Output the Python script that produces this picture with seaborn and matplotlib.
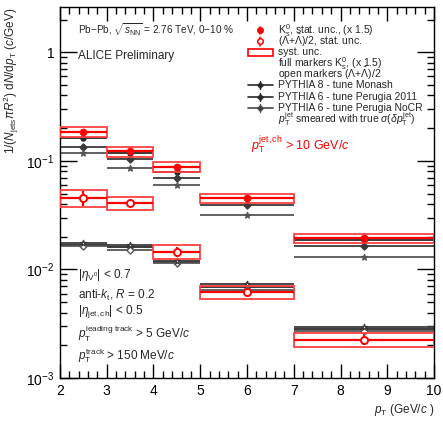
import numpy as np
import pandas as pd
import seaborn as sns
import matplotlib
matplotlib.use("Agg")
import matplotlib.pyplot as plt
from matplotlib.patches import Rectangle
from matplotlib.lines import Line2D
from matplotlib.ticker import FixedLocator, FixedFormatter, LogLocator, MultipleLocator, NullFormatter

# ---------------- data ----------------
bin_lo = [2, 3, 4, 5, 7]
bin_hi = [3, 4, 5, 7, 10]

k0s = [0.185, 0.122, 0.0887, 0.0451, 0.0194]
k0s_stat = [0.010, 0.006, 0.004, 0.002, 0.0010]
k0s_syst = [0.0185, 0.0125, 0.0096, 0.0045, 0.0019]

lam = [0.0458, 0.0409, 0.0146, 0.0062, 0.00226]
lam_stat = [0.0075, 0.0022, 0.0015, 0.0006, 0.00025]
lam_syst = [0.0080, 0.0058, 0.0021, 0.00085, 0.00033]

monash_k = [0.164, 0.119, 0.0787, 0.0455, 0.0185]
p2011_k = [0.135, 0.1036, 0.0694, 0.0392, 0.0163]
nocr_k = [0.118, 0.0857, 0.0598, 0.0318, 0.0130]

monash_l = [0.0168, 0.0160, 0.0117, 0.0069, 0.00285]
p2011_l = [0.0163, 0.0152, 0.0115, 0.0065, 0.0027]
nocr_l = [0.0174, 0.0168, 0.0119, 0.0074, 0.00296]

x_ticks = [2, 3, 4, 5, 6, 7, 8, 9, 10]
y_ticks = [1e-3, 1e-2, 1e-1, 1]
y_tick_labels = [r"$10^{-3}$", r"$10^{-2}$", r"$10^{-1}$", "1"]

legend_labels = [
    r"K$^{0}_{\mathrm{s}}$, stat. unc., (x 1.5)",
    r"($\Lambda$+$\bar{\Lambda}$)/2, stat. unc.",
    "syst. unc.",
    r"full markers K$^{0}_{\mathrm{s}}$, (x 1.5)",
    r"open markers ($\Lambda$+$\bar{\Lambda}$)/2",
    "PYTHIA 8 - tune Monash",
    "PYTHIA 6 - tune Perugia 2011",
    "PYTHIA 6 - tune Perugia NoCR",
    r"$p_{\mathrm{T}}^{\mathrm{jet}}$ smeared with true $\sigma(\delta p_{\mathrm{T}}^{\mathrm{jet}})$",
]

# ---------------- style ----------------
sns.set_theme(style="ticks")
plt.rcParams["font.family"] = ["Liberation Sans", "DejaVu Sans"]
plt.rcParams["mathtext.fontset"] = "custom"
plt.rcParams["mathtext.rm"] = "Liberation Sans"
plt.rcParams["mathtext.it"] = "Liberation Sans:italic"
plt.rcParams["mathtext.bf"] = "Liberation Sans:bold"

fig = plt.figure(figsize=(4.43, 4.22), dpi=100)
ax = fig.add_axes([0.1354, 0.104, 0.8443, 0.879])

lo = np.array(bin_lo, float)
hi = np.array(bin_hi, float)
cen = (lo + hi) / 2
halfw = (hi - lo) / 2

RED = "#ff0000"
BOX = "#ff4040"

# PYTHIA curves (horizontal bin lines + marker)
pythia = [
    (monash_k, "#2a2a2a", "o", True),
    (p2011_k, "#3a3a3a", "D", True),
    (nocr_k, "#555555", "*", True),
    (monash_l, "#2a2a2a", "o", False),
    (p2011_l, "#555555", "D", False),
    (nocr_l, "#3a3a3a", "*", False),
]
for vals, col, mk, filled in pythia:
    v = np.array(vals)
    ax.hlines(v, lo, hi, colors=col, lw=1.3, zorder=2)
    df = pd.DataFrame({"x": cen, "y": v})
    sns.scatterplot(data=df, x="x", y="y", ax=ax, marker=mk,
                    s=20 if mk == "*" else 13,
                    color=col if filled else "white",
                    edgecolor=col, linewidth=1.0, zorder=3, legend=False)
    ax.vlines(cen, v * 0.97, v * 1.03, colors=col, lw=1.2, zorder=2)

# syst boxes
for vals, syst in ((k0s, k0s_syst), (lam, lam_syst)):
    for l, h, v, s in zip(lo, hi, vals, syst):
        ax.add_patch(Rectangle((l, v - s), h - l, 2 * s, fill=False,
                               edgecolor=BOX, lw=1.3, zorder=4))

# data points
ax.errorbar(cen, k0s, yerr=k0s_stat, xerr=halfw, fmt="none", ecolor=RED,
            elinewidth=1.6, capsize=0, zorder=5)
sns.scatterplot(x=cen, y=k0s, ax=ax, color=RED, edgecolor=RED, s=26,
                marker="o", zorder=6, legend=False)
ax.errorbar(cen, lam, yerr=lam_stat, xerr=halfw, fmt="none", ecolor=RED,
            elinewidth=1.6, capsize=0, zorder=5)
sns.scatterplot(x=cen, y=lam, ax=ax, color="white", edgecolor=RED, s=26,
                linewidth=1.4, marker="o", zorder=6, legend=False)

# ---------------- axes ----------------
ax.set_yscale("log")
ax.set_xlim(2, 10)
ax.set_ylim(1e-3, 2.6)
ax.xaxis.set_major_locator(FixedLocator(x_ticks))
ax.xaxis.set_minor_locator(MultipleLocator(0.2))
ax.yaxis.set_major_locator(FixedLocator(y_ticks))
ax.yaxis.set_major_formatter(FixedFormatter(y_tick_labels))
ax.yaxis.set_minor_locator(LogLocator(base=10, subs=np.arange(2, 10)))
ax.yaxis.set_minor_formatter(NullFormatter())
ax.tick_params(which="both", direction="in", top=True, right=True,
               labelsize=10, colors="black", width=1.0)
ax.tick_params(which="major", length=10, pad=4)
ax.tick_params(which="minor", length=5)
ax.tick_params(axis="y", which="major", length=12)
for sp in ax.spines.values():
    sp.set_linewidth(1.0)
    sp.set_color("black")

ax.set_xlabel(r"$p_{\mathrm{T}}$ (GeV/$c$ )", loc="right", fontsize=8.5, labelpad=3)
ax.set_ylabel(r"$1/(N_{\mathrm{jets}}\pi R^{2})$ d$N$/d$p_{\mathrm{T}}$ ($c$/GeV)",
              loc="top", fontsize=8.5, labelpad=4)

# ---------------- texts ----------------
fs = 7.5
ax.text(0.048, 0.938, r"Pb$-$Pb, $\sqrt{s_{\mathrm{NN}}}$ = 2.76 TeV, 0$-$10 %",
        transform=ax.transAxes, fontsize=7.2, va="center")
ax.text(0.048, 0.868, "ALICE Preliminary", transform=ax.transAxes,
        fontsize=8.5, va="center")
ax.text(0.511, 0.627, r"$p_{\mathrm{T}}^{\mathrm{jet,ch}}$ > 10 GeV/$c$",
        transform=ax.transAxes, fontsize=9, color=RED, va="center")

left_txt = [
    (0.278, r"$|\eta_{\mathrm{V^{0}}}|$ < 0.7"),
    (0.224, r"anti-$k_{\mathrm{t}}$, $R$ = 0.2"),
    (0.180, r"$|\eta_{\mathrm{jet,ch}}|$ < 0.5"),
    (0.118, r"$p_{\mathrm{T}}^{\mathrm{leading\ track}}$ > 5 GeV/$c$"),
    (0.060, r"$p_{\mathrm{T}}^{\mathrm{track}}$ > 150 MeV/$c$"),
]
for yy, t in left_txt:
    ax.text(0.048, yy, t, transform=ax.transAxes, fontsize=8.5, va="center")

# ---------------- legend (manual rows) ----------------
T = ax.transAxes
row_y = [(378 - py) / 371 for py in (30, 41, 52, 63, 74, 85, 97, 108, 119)]
hx0, hxm, hx1, tx = 0.503, 0.535, 0.570, 0.583
for yy, lab in zip(row_y, legend_labels):
    ax.text(tx, yy, lab, transform=T, fontsize=fs, va="center", ha="left")
# keys
ax.add_line(Line2D([hxm], [row_y[0]], transform=T, ls="none", marker="o",
                   color=RED, markersize=4))
ax.add_line(Line2D([hxm, hxm], [row_y[0] - 0.009, row_y[0] + 0.009], transform=T,
                   color=RED, lw=1.2))
ax.add_line(Line2D([hxm], [row_y[1]], transform=T, ls="none", marker="o",
                   color=RED, mfc="white", markersize=4, mew=1.1))
ax.add_line(Line2D([hxm, hxm], [row_y[1] - 0.012, row_y[1] + 0.012], transform=T,
                   color=RED, lw=1.1, zorder=1))
ax.add_patch(Rectangle((hx0, row_y[2] - 0.009), hx1 - hx0, 0.018, transform=T,
                       fill=False, edgecolor=RED, lw=1.2))
for yy, col in zip(row_y[5:8], ("#2a2a2a", "#2a2a2a", "#444444")):
    ax.add_line(Line2D([hx0, hx1], [yy, yy], transform=T, color=col, lw=1.2))
    ax.add_line(Line2D([hxm], [yy], transform=T, ls="none", marker="D",
                       color=col, markersize=2.8))
    ax.add_line(Line2D([hxm, hxm], [yy - 0.01, yy + 0.01], transform=T,
                       color=col, lw=1.0))

fig.savefig("out.png", dpi=100)
